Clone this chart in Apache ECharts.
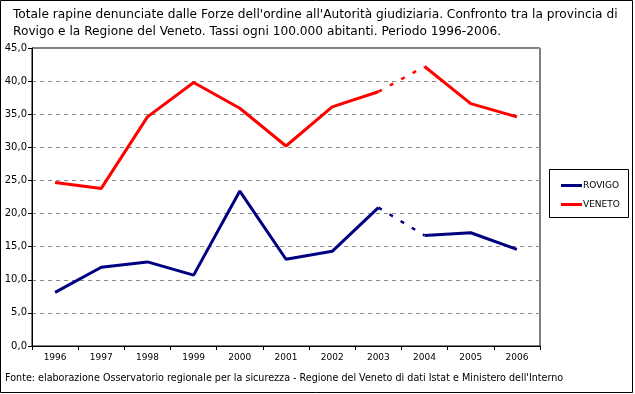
<!DOCTYPE html>
<html>
<head>
<meta charset="utf-8">
<script src="https://cdn.jsdelivr.net/npm/echarts@6/dist/echarts.min.js"></script>
<style>
html,body{margin:0;padding:0;background:#fff;}
#c{width:635px;height:394px;}
</style>
</head>
<body>
<div id="c"></div>
<script>
const years = ['1996','1997','1998','1999','2000','2001','2002','2003','2004','2005','2006'];
const rovigo = [8.1, 11.9, 12.7, 10.7, 23.4, 13.1, 14.3, 20.9, 16.7, 17.1, 14.6];
const veneto = [24.7, 23.8, 34.6, 39.8, 35.9, 30.2, 36.1, 38.4, 42.2, 36.6, 34.6];
const yTicks = {min: 0, max: 45, interval: 5};
const titleText = "Totale rapine denunciate dalle Forze dell'ordine all'Autorità giudiziaria. Confronto tra la provincia di\nRovigo e la Regione del Veneto. Tassi ogni 100.000 abitanti. Periodo 1996-2006.";
const sourceText = "Fonte: elaborazione Osservatorio regionale per la sicurezza - Regione del Veneto di dati Istat e Ministero dell'Interno";
const breakAt = 7; // dashed segment between 2003 and 2004

const FONT = 'DejaVu Sans';

function parts(name, vals, color) {
  const a = vals.map((v, i) => i <= breakAt ? v : null);
  const d = vals.map((v, i) => (i === breakAt || i === breakAt + 1) ? v : null);
  const b = vals.map((v, i) => i >= breakAt + 1 ? v : null);
  const base = {name: name, type: 'line', showSymbol: false, symbol: 'none', itemStyle: {color: color}, connectNulls: false, animation: false};
  return [
    Object.assign({}, base, {data: a, lineStyle: {color: color, width: 3}}),
    Object.assign({}, base, {data: d, lineStyle: {color: color, width: 2.5, type: [4, 9]}}),
    Object.assign({}, base, {data: b, lineStyle: {color: color, width: 3}})
  ];
}

const chart = echarts.init(document.getElementById('c'), null, {renderer: 'canvas'});
chart.setOption({
  animation: false,
  backgroundColor: '#fff',
  title: {
    text: titleText, left: 8, top: 1,
    textStyle: {fontFamily: FONT, fontSize: 12.2, fontWeight: 'normal', color: '#000', lineHeight: 17}
  },
  grid: {left: 32, right: 95, top: 48, bottom: 48, show: true, borderColor: '#000', borderWidth: 1, backgroundColor: 'transparent'},
  xAxis: {
    type: 'category', data: years, boundaryGap: true,
    axisLine: {lineStyle: {color: '#000', width: 1}},
    axisTick: {show: true, length: 4, lineStyle: {color: '#000'}},
    axisLabel: {fontFamily: FONT, fontSize: 9, color: '#000', margin: 7}
  },
  yAxis: {
    type: 'value', min: yTicks.min, max: yTicks.max, interval: yTicks.interval,
    axisLine: {show: true, lineStyle: {color: '#000', width: 1}},
    axisTick: {show: true, length: 4, lineStyle: {color: '#000'}},
    axisLabel: {fontFamily: FONT, fontSize: 10, color: '#000', margin: 5, formatter: v => v.toFixed(1).replace('.', ',')},
    splitLine: {show: true, lineStyle: {color: '#888', type: [4, 4], width: 1}}
  },
  legend: {
    orient: 'vertical', left: 556, top: 176, itemWidth: 21, itemHeight: 3, itemGap: 10, icon: 'rect',
    data: ['ROVIGO', 'VENETO'],
    textStyle: {fontFamily: FONT, fontSize: 9, color: '#000', padding: [0, 0, 0, -4]}
  },
  graphic: [
    {type: 'rect', shape: {x: 549.5, y: 169.5, width: 79, height: 48}, style: {fill: 'none', stroke: '#000', lineWidth: 1}, silent: true},
    {type: 'rect', shape: {x: 0.5, y: 0.5, width: 632, height: 392}, style: {fill: 'none', stroke: '#000', lineWidth: 1}, silent: true},
    {type: 'text', left: 5, top: 373, style: {text: sourceText, font: '9.6px "' + FONT + '"', fill: '#000'}, silent: true}
  ],
  series: [].concat(parts('ROVIGO', rovigo, '#000080'), parts('VENETO', veneto, '#ff0000'))
});
</script>
</body>
</html>
